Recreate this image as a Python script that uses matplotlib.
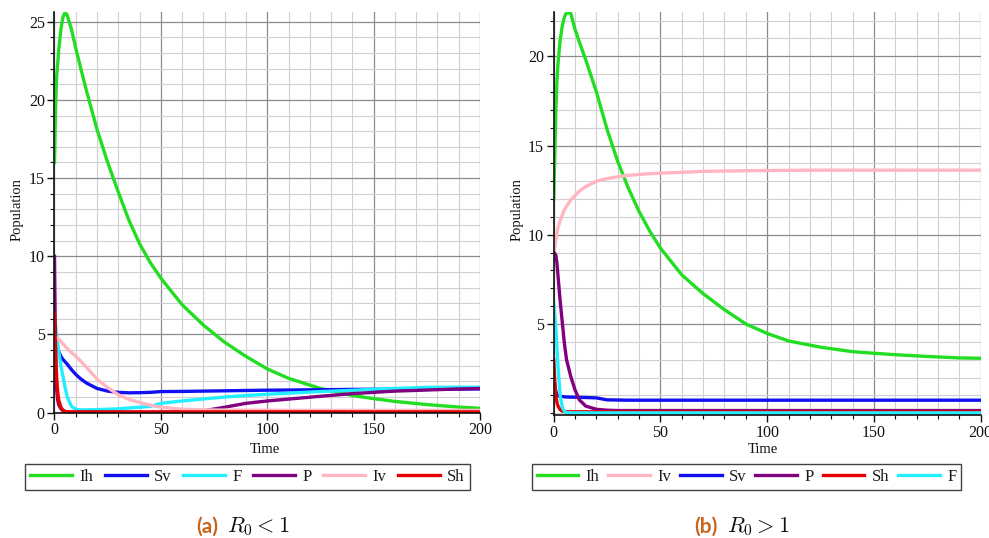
import matplotlib
matplotlib.use("Agg")
import matplotlib.pyplot as plt
from matplotlib.ticker import MultipleLocator

plt.rcParams['font.family'] = ['Liberation Serif', 'DejaVu Serif']
plt.rcParams['mathtext.fontset'] = 'cm'

# ---------------- data ----------------
time = [0, 0.5, 1, 1.5, 2, 3, 4, 5, 6, 8, 10, 12, 15, 20, 25, 30, 35, 40, 45, 50,
        60, 70, 80, 90, 100, 110, 125, 140, 150, 160, 175, 190, 200]

# (a) R0 < 1
a_Ih = [16, 19.5, 21.5, 22.3, 23.2, 24.5, 25.3, 25.6, 25.4, 24.5, 23.3, 22.2, 20.6, 18.1, 16.0,
        14.1, 12.3, 10.8, 9.6, 8.6, 6.9, 5.6, 4.5, 3.6, 2.8, 2.2, 1.55, 1.1, 0.9, 0.72, 0.52, 0.36, 0.28]
a_Sv = [5.2, 4.9, 4.5, 4.2, 3.9, 3.6, 3.4, 3.25, 3.1, 2.75, 2.45, 2.2, 1.9, 1.55, 1.38,
        1.3, 1.27, 1.28, 1.3, 1.35, 1.36, 1.38, 1.4, 1.42, 1.44, 1.45, 1.47, 1.49, 1.5, 1.5, 1.51, 1.51, 1.52]
a_F = [5.9, 5.6, 5.0, 4.4, 3.9, 3.0, 2.3, 1.6, 1.0, 0.4, 0.22, 0.18, 0.18, 0.2, 0.22,
       0.25, 0.3, 0.35, 0.4, 0.6, 0.75, 0.88, 1.0, 1.1, 1.18, 1.25, 1.35, 1.43, 1.5, 1.55, 1.62, 1.63, 1.63]
a_P = [10, 3.5, 1.5, 0.8, 0.5, 0.25, 0.12, 0.08, 0.05, 0.03, 0.03, 0.03, 0.03, 0.03, 0.03,
       0.03, 0.03, 0.03, 0.03, 0.03, 0.06, 0.12, 0.35, 0.6, 0.75, 0.87, 1.05, 1.22, 1.3, 1.38, 1.45, 1.52, 1.55]
a_Iv = [4.8, 4.8, 4.8, 4.75, 4.7, 4.55, 4.4, 4.25, 4.1, 3.85, 3.6, 3.35, 2.9, 2.15, 1.6,
        1.15, 0.85, 0.65, 0.48, 0.35, 0.22, 0.18, 0.17, 0.16, 0.16, 0.15, 0.15, 0.15, 0.15, 0.15, 0.15, 0.15, 0.15]
a_Sh = [6.3, 4.0, 2.3, 1.3, 0.8, 0.35, 0.15, 0.08, 0.06, 0.05, 0.05, 0.05, 0.05, 0.05, 0.05,
        0.05, 0.05, 0.05, 0.05, 0.05, 0.05, 0.05, 0.05, 0.05, 0.05, 0.05, 0.05, 0.05, 0.05, 0.05, 0.05, 0.05, 0.05]

# (b) R0 > 1
b_Ih = [12, 14.5, 17, 18.6, 19.6, 20.9, 21.7, 22.2, 22.45, 22.4, 21.5, 20.8, 19.8, 18.0, 15.9,
        14.1, 12.6, 11.3, 10.2, 9.25, 7.75, 6.7, 5.8, 5.0, 4.47, 4.05, 3.7, 3.45, 3.36, 3.28, 3.18, 3.1, 3.08]
b_Iv = [8.8, 9.3, 9.7, 10.1, 10.4, 10.8, 11.1, 11.4, 11.6, 11.95, 12.2, 12.45, 12.7, 13.0, 13.15,
        13.25, 13.33, 13.38, 13.42, 13.45, 13.5, 13.55, 13.57, 13.59, 13.6, 13.61, 13.62, 13.62, 13.62, 13.62, 13.62, 13.62, 13.62]
b_Sv = [2.0, 1.5, 1.2, 1.05, 0.98, 0.95, 0.93, 0.92, 0.91, 0.9, 0.9, 0.89, 0.88, 0.86, 0.75,
        0.74, 0.73, 0.73, 0.73, 0.73, 0.73, 0.73, 0.73, 0.73, 0.73, 0.73, 0.73, 0.73, 0.73, 0.73, 0.73, 0.73, 0.73]
b_P = [9.0, 8.95, 8.85, 8.4, 7.7, 6.3, 5.1, 3.9, 3.0, 2.05, 1.3, 0.75, 0.4, 0.22, 0.17,
       0.15, 0.15, 0.15, 0.15, 0.15, 0.15, 0.15, 0.15, 0.15, 0.15, 0.15, 0.15, 0.15, 0.15, 0.15, 0.15, 0.15, 0.15]
b_Sh = [3.0, 1.8, 1.0, 0.6, 0.4, 0.2, 0.12, 0.1, 0.09, 0.08, 0.08, 0.08, 0.08, 0.08, 0.08,
        0.08, 0.08, 0.08, 0.08, 0.08, 0.08, 0.08, 0.08, 0.08, 0.08, 0.08, 0.08, 0.08, 0.08, 0.08, 0.08, 0.08, 0.08]
b_F = [6.2, 5.5, 4.7, 3.7, 2.6, 1.0, 0.35, 0.1, 0.04, 0.02, 0.02, 0.02, 0.02, 0.02, 0.02,
       0.02, 0.02, 0.02, 0.02, 0.02, 0.02, 0.02, 0.02, 0.02, 0.02, 0.02, 0.02, 0.02, 0.02, 0.02, 0.02, 0.02, 0.02]

x_ticks = [0, 50, 100, 150, 200]
a_yticks = [0, 5, 10, 15, 20, 25]
b_yticks = [5, 10, 15, 20]

colors = {'Ih': '#22DD22', 'Sv': '#1010F0', 'F': '#22EEFF', 'P': '#800080',
          'Iv': '#FFB6C1', 'Sh': '#E80000'}

series_a = [('Ih', a_Ih), ('Sv', a_Sv), ('F', a_F), ('P', a_P), ('Iv', a_Iv), ('Sh', a_Sh)]
series_b = [('Ih', b_Ih), ('Iv', b_Iv), ('Sv', b_Sv), ('P', b_P), ('Sh', b_Sh), ('F', b_F)]

fig = plt.figure(figsize=(9.89, 5.38), dpi=100)

def style_axes(ax, ylim, yticks):
    ax.set_xlim(0, 200)
    ax.set_ylim(*ylim)
    ax.set_xticks(x_ticks)
    ax.set_yticks(yticks)
    ax.xaxis.set_minor_locator(MultipleLocator(10))
    ax.yaxis.set_minor_locator(MultipleLocator(1))
    ax.grid(which='major', color='#8a8a90', linewidth=0.9)
    ax.grid(which='minor', color='#cfcfd4', linewidth=0.8)
    ax.set_axisbelow(True)
    for s in ('top', 'right'):
        ax.spines[s].set_visible(False)
    for s in ('left', 'bottom'):
        ax.spines[s].set_linewidth(1.2)
        ax.spines[s].set_color('#111111')
    ax.tick_params(which='major', direction='out', length=5, width=1, labelsize=11.5,
                   colors='#111111', pad=2)
    ax.tick_params(which='minor', direction='out', length=3, width=0.8, colors='#111111')

ax1 = fig.add_axes([0.0551, 0.2329, 0.4302, 0.7454])
ax2 = fig.add_axes([0.5599, 0.2286, 0.4316, 0.7497])

style_axes(ax1, (0, 25.64), a_yticks)
style_axes(ax2, (-0.1, 22.5), b_yticks)

lines_a = []
for name, vals in series_a:
    l, = ax1.plot(time, vals, color=colors[name], linewidth=2.4, label=name)
    lines_a.append(l)
lines_b = []
for name, vals in series_b:
    l, = ax2.plot(time, vals, color=colors[name], linewidth=2.4, label=name)
    lines_b.append(l)

# axis labels
fig.text(0.268, 0.1654, 'Time', ha='center', va='center', fontsize=10.5, color='#111111')
fig.text(0.7715, 0.1654, 'Time', ha='center', va='center', fontsize=10.5, color='#111111')
fig.text(0.0172, 0.61, 'Population', ha='center', va='center', rotation=90, fontsize=10.5, color='#111111')
fig.text(0.5228, 0.61, 'Population', ha='center', va='center', rotation=90, fontsize=10.5, color='#111111')

# legends
leg_kw = dict(loc='center', ncol=6, fontsize=12, frameon=True,
              fancybox=False, edgecolor='#111111', handlelength=2.5, handletextpad=0.45,
              borderaxespad=0, borderpad=0.3)
lg1 = fig.legend(handles=lines_a, bbox_to_anchor=(0.2503, 0.1143), columnspacing=0.7, **leg_kw)
lg2 = fig.legend(handles=lines_b, bbox_to_anchor=(0.7548, 0.1143), columnspacing=0.52, **leg_kw)
for lg in (lg1, lg2):
    lg.get_frame().set_linewidth(1.0)
    for t in lg.get_texts():
        t.set_color('#1a1a1a')

# captions
cap_color = '#C8661E'
fig.text(0.2204, 0.0204, '(a)', ha='right', va='center', fontsize=15, fontweight='bold',
         family=['Lato', 'DejaVu Sans'], color=cap_color)
fig.text(0.2295, 0.0204, r'$R_0 < 1$', ha='left', va='center', fontsize=16, color='#111111')
fig.text(0.726, 0.0204, '(b)', ha='right', va='center', fontsize=15, fontweight='bold',
         family=['Lato', 'DejaVu Sans'], color=cap_color)
fig.text(0.735, 0.0204, r'$R_0 > 1$', ha='left', va='center', fontsize=16, color='#111111')

fig.savefig('out.png', dpi=100)
